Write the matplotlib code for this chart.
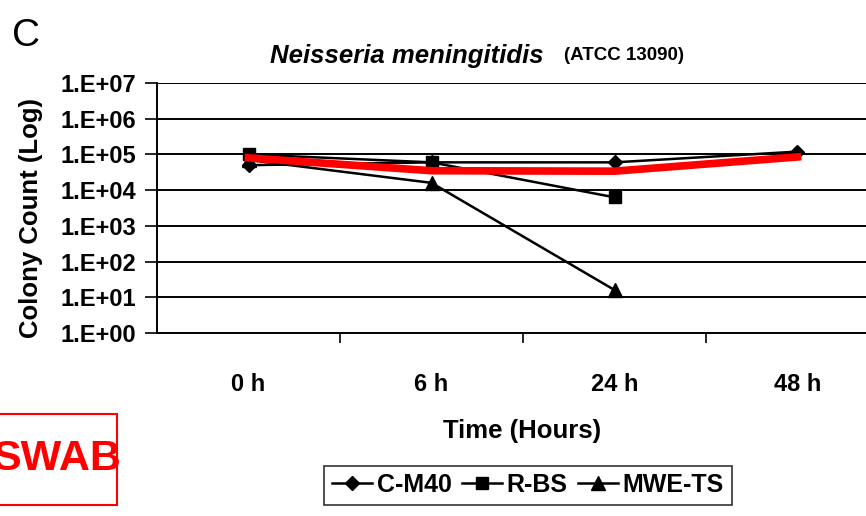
import numpy as np
import matplotlib.pyplot as plt
from matplotlib.patches import Rectangle
from matplotlib.lines import Line2D

plt.rcParams['font.family'] = ['Liberation Sans', 'DejaVu Sans']
plt.rcParams['font.weight'] = 'bold'

times = ['0 h', '6 h', '24 h', '48 h']
cm40 = [5.0e4, 6.0e4, 6.0e4, 1.2e5]
rbs = [1.0e5, 6.0e4, 6.3e3]
mwets = [7.0e4, 1.6e4, 16]
red_line = [8.0e4, 3.5e4, 3.4e4, 8.5e4]

fig = plt.figure(figsize=(8.66, 5.16), dpi=100)
ax = fig.add_axes([157/866, 1-333/516, 732/866, 250/516])

x = np.arange(len(times))
ax.plot(x, cm40, '-', color='black', lw=1.8, marker='D', ms=7, zorder=3)
ax.plot(x[:3], rbs, '-', color='black', lw=1.8, marker='s', ms=8, zorder=3)
ax.plot(x[:3], mwets, '-', color='black', lw=1.8, marker='^', ms=10, zorder=3)
ax.plot(x, red_line, '-', color='#ff0000', lw=5.5, zorder=4)

ax.set_yscale('log')
ax.set_ylim(1, 1e7)
ax.set_xlim(-0.5, 3.5)
ax.set_yticks([10.0**k for k in range(8)])
ax.set_yticklabels(['1.E+%02d' % k for k in range(8)], fontweight='bold')
ax.minorticks_off()
ax.yaxis.grid(True, color='black', lw=1.4)
ax.set_axisbelow(True)

ax.set_xticks(x)
ax.set_xticklabels(times, fontweight='bold')
ax.tick_params(axis='x', length=0, pad=29, labelsize=17)
ax.set_xticks([0.5, 1.5, 2.5], minor=True)
ax.tick_params(axis='x', which='minor', length=7, width=1.2, direction='out')
ax.tick_params(axis='y', length=9, width=1.2, labelsize=17, pad=6)

for s in ['top', 'right']:
    ax.spines[s].set_visible(False)
ax.spines['left'].set_linewidth(1.4)
ax.spines['bottom'].set_linewidth(1.4)

fig.text(31/866, 1-218/516, 'Colony Count (Log)', fontsize=18.5, fontweight='bold',
         rotation=90, ha='center', va='center')
fig.text(522/866, 1-431/516, 'Time (Hours)', fontsize=18.5, fontweight='bold',
         ha='center', va='center')

fig.text(544/866, 1-56/516, 'Neisseria meningitidis', fontsize=18.5, style='italic',
         fontweight='bold', ha='right', va='center')
fig.text(564/866, 1-56/516, '(ATCC 13090)', fontsize=13.5, fontweight='bold',
         ha='left', va='center')
fig.text(12/866, 1-36/516, 'C', fontsize=28, fontweight='normal', ha='left', va='center')

handles = [Line2D([], [], color='black', lw=1.8, marker='D', ms=7),
           Line2D([], [], color='black', lw=1.8, marker='s', ms=8),
           Line2D([], [], color='black', lw=1.8, marker='^', ms=10)]
leg = fig.legend(handles, ['C-M40', 'R-BS', 'MWE-TS'], loc='center',
                 bbox_to_anchor=(528/866, 1-485/516), ncol=3,
                 prop={'size': 18, 'weight': 'bold'},
                 frameon=True, fancybox=False, handlelength=1.6, handletextpad=0.2,
                 columnspacing=0.4, borderpad=0.3, borderaxespad=0)
leg.get_frame().set_edgecolor('black')
leg.get_frame().set_linewidth(1.2)

fig.patches.append(Rectangle((-10/866, 1-505/516), 127/866, 91/516, transform=fig.transFigure,
                             fill=False, edgecolor='#ff0000', lw=1.5))
fig.text(122/866, 1-459/516, 'SWAB', fontsize=31, color='#ff0000', ha='right', va='center',
         fontweight='bold')

fig.savefig('out.png', dpi=100)
